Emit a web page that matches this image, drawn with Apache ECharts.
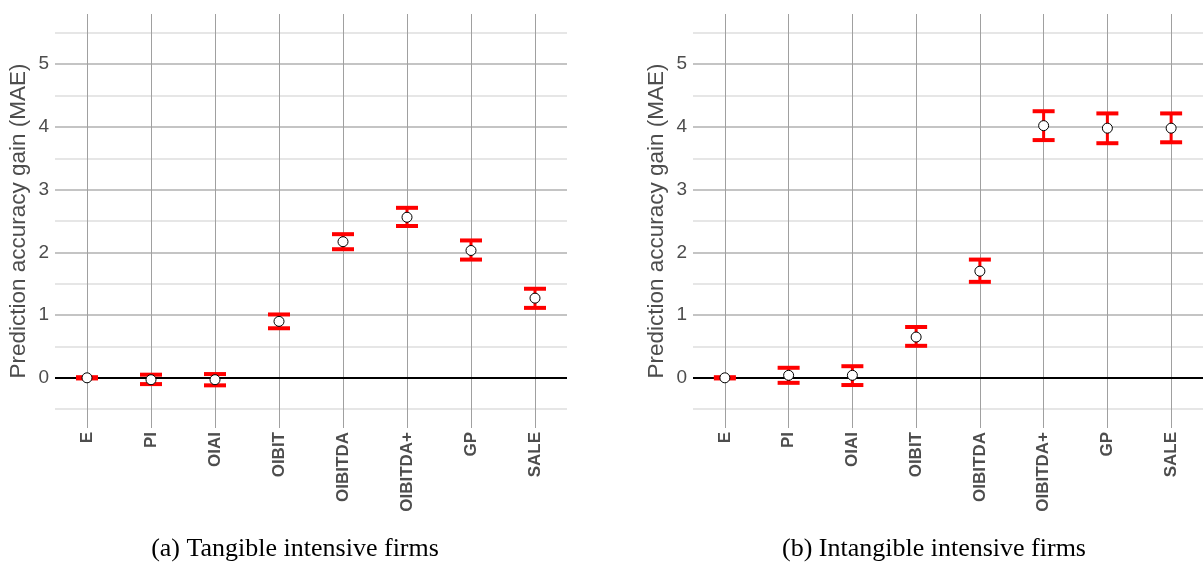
<!DOCTYPE html>
<html>
<head>
<meta charset="utf-8">
<script src="https://cdn.jsdelivr.net/npm/echarts@6/dist/echarts.min.js"></script>
<style>
  html, body { margin: 0; padding: 0; background: #ffffff; }
  #chart { width: 1203px; height: 567px; }
</style>
</head>
<body>
<div id="chart"></div>
<script>
// Earnings measures on the horizontal axis
const categories = ['E', 'PI', 'OIAI', 'OIBIT', 'OIBITDA', 'OIBITDA+', 'GP', 'SALE'];

// (a) Tangible intensive firms: mean gain and 95% interval
const tangibleMean = [0.00, -0.03, -0.03, 0.90, 2.17, 2.56, 2.03, 1.27];
const tangibleLow  = [-0.01, -0.10, -0.12, 0.79, 2.05, 2.42, 1.885, 1.115];
const tangibleHigh = [0.01, 0.05, 0.06, 1.01, 2.29, 2.71, 2.19, 1.42];

// (b) Intangible intensive firms
const intangibleMean = [0.00, 0.04, 0.04, 0.65, 1.70, 4.02, 3.98, 3.98];
const intangibleLow  = [-0.01, -0.08, -0.115, 0.51, 1.53, 3.79, 3.74, 3.755];
const intangibleHigh = [0.01, 0.16, 0.185, 0.81, 1.885, 4.25, 4.215, 4.215];

// Value axis ticks
const majorTicks = [0, 1, 2, 3, 4, 5];
const minorTicks = [-0.5, 0.5, 1.5, 2.5, 3.5, 4.5, 5.5];

const captions = ['(a) Tangible intensive firms', '(b) Intangible intensive firms'];
const yTitle = 'Prediction accuracy gain (MAE)';

const panels = [
  { mean: tangibleMean, low: tangibleLow, high: tangibleHigh, left: 55, caption: captions[0], cx: 290 },
  { mean: intangibleMean, low: intangibleLow, high: intangibleHigh, left: 693, caption: captions[1], cx: 929 }
];

const labelColor = '#4d4d4d';
const sans = 'Liberation Sans, Arial, sans-serif';

function renderErrorBar(params, api) {
  const x = api.value(0);
  const top = api.coord([x, api.value(2)]);
  const bot = api.coord([x, api.value(1)]);
  const half = 11;
  const red = '#ff0000';
  return {
    type: 'group',
    children: [
      { type: 'line', shape: { x1: top[0], y1: top[1], x2: bot[0], y2: bot[1] }, style: { stroke: red, lineWidth: 3 } },
      { type: 'line', shape: { x1: top[0] - half, y1: top[1], x2: top[0] + half, y2: top[1] }, style: { stroke: red, lineWidth: 4 } },
      { type: 'line', shape: { x1: bot[0] - half, y1: bot[1], x2: bot[0] + half, y2: bot[1] }, style: { stroke: red, lineWidth: 4 } }
    ]
  };
}

const grid = [], xAxis = [], yAxis = [], series = [], title = [];

panels.forEach((p, k) => {
  grid.push({ left: p.left, top: 14, width: 512, height: 414, containLabel: false });
  xAxis.push({
    type: 'category', gridIndex: k, data: categories, boundaryGap: true,
    axisLine: { show: false }, axisTick: { show: false }, splitLine: { show: false },
    axisLabel: { rotate: 90, margin: 4, color: labelColor, fontWeight: 'bold', fontSize: 17, fontFamily: sans, interval: 0 }
  });
  yAxis.push({
    type: 'value', gridIndex: k, min: -0.8, max: 5.8,
    axisLine: { show: false }, axisTick: { show: false }, splitLine: { show: false },
    axisLabel: { customValues: majorTicks, margin: 6, color: labelColor, fontSize: 19, fontFamily: sans },
    name: yTitle, nameLocation: 'middle', nameRotate: 90, nameGap: 25,
    nameTextStyle: { color: labelColor, fontSize: 22.5, fontFamily: sans }
  });

  // Background grid lines
  series.push({
    type: 'line', xAxisIndex: k, yAxisIndex: k, data: [], z: 1, silent: true,
    markLine: {
      z: 1, silent: true, symbol: 'none', animation: false, label: { show: false },
      data: []
        .concat(minorTicks.map(v => ({ yAxis: v, lineStyle: { color: '#dedede', width: 1.5, type: 'solid' } })))
        .concat(majorTicks.filter(v => v !== 0).map(v => ({ yAxis: v, lineStyle: { color: '#b0b0b0', width: 1.5, type: 'solid' } })))
        .concat(categories.map(c => ({ xAxis: c, lineStyle: { color: '#a0a0a0', width: 1, type: 'solid' } })))
    }
  });
  // Zero reference line
  series.push({
    type: 'line', xAxisIndex: k, yAxisIndex: k, data: [], z: 2, silent: true,
    markLine: {
      z: 2, silent: true, symbol: 'none', animation: false, label: { show: false },
      data: [{ yAxis: 0, lineStyle: { color: '#000000', width: 2, type: 'solid' } }]
    }
  });
  // Interval bars
  series.push({
    type: 'custom', xAxisIndex: k, yAxisIndex: k, z: 6, silent: true, animation: false,
    renderItem: renderErrorBar,
    data: categories.map((c, i) => [i, p.low[i], p.high[i]])
  });
  // Point estimates
  series.push({
    type: 'scatter', xAxisIndex: k, yAxisIndex: k, z: 7, silent: true, animation: false,
    symbol: 'circle', symbolSize: 10,
    itemStyle: { color: '#ffffff', borderColor: '#000000', borderWidth: 1, opacity: 1 },
    data: categories.map((c, i) => [i, p.mean[i]])
  });

  title.push({
    text: p.caption, left: p.cx, top: 531, textAlign: 'center',
    textStyle: { fontFamily: 'Liberation Serif, Times New Roman, serif', fontSize: 26, fontWeight: 'normal', color: '#000000' }
  });
});

const chart = echarts.init(document.getElementById('chart'), null, { renderer: 'canvas' });
chart.setOption({ animation: false, backgroundColor: '#ffffff', title, grid, xAxis, yAxis, series });
</script>
</body>
</html>
